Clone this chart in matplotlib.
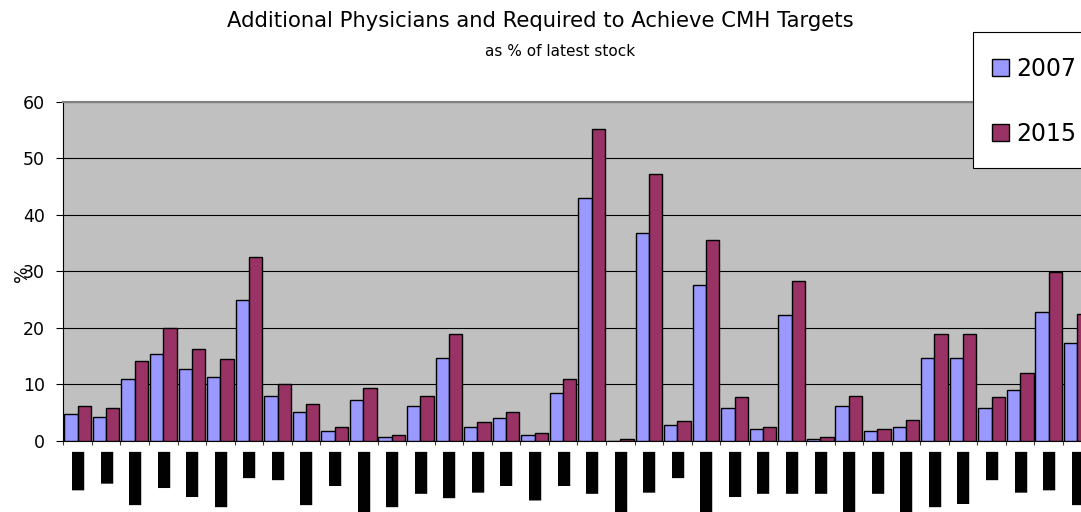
import matplotlib
matplotlib.use("Agg")
import matplotlib.pyplot as plt
from matplotlib.patches import Patch, Rectangle
import numpy as np

plt.rcParams["font.family"] = ["DejaVu Sans"]

# Values (% of latest stock) for each of the 36 categories
values_2007 = [4.7, 4.3, 10.9, 15.3, 12.7, 11.3, 25.0, 8.0, 5.1, 1.8, 7.2, 0.7,
               6.2, 14.6, 2.5, 4.0, 1.1, 8.4, 42.9, 0.0, 36.7, 2.8, 27.6, 5.8,
               2.1, 22.2, 0.3, 6.2, 1.8, 2.5, 14.6, 14.6, 5.8, 9.1, 22.9, 17.4]
values_2015 = [6.2, 5.8, 14.1, 19.9, 16.3, 14.5, 32.6, 10.1, 6.6, 2.5, 9.4, 1.1,
               8.0, 18.9, 3.3, 5.1, 1.5, 10.9, 55.2, 0.35, 47.2, 3.6, 35.5, 7.7,
               2.5, 28.3, 0.7, 8.0, 2.2, 3.7, 18.9, 18.9, 7.7, 12.0, 29.8, 22.5]

# Category labels are blacked out (solid block glyphs)
B = "█"
category_labels = [
    B * 4 + "▍", B * 3 + "▋", B * 6, B * 4 + "▏", B * 5 + "▏", B * 6 + "▎",
    B * 3, B * 3 + "▎", B * 6, B * 3 + "▉", B * 8, B * 6 + "▎",
    B * 4 + "▊", B * 5 + "▎", B * 4 + "▋", B * 3 + "▉", B * 5 + "▌", B * 3 + "▉",
    B * 4 + "▊", B * 8, B * 4 + "▋", B * 3, B * 8, B * 5 + "▏",
    B * 4 + "▊", B * 4 + "▊", B * 4 + "▊", B * 8, B * 4 + "▊", B * 8,
    B * 6 + "▎", B * 5 + "▉", B * 3 + "▎", B * 4 + "▋", B * 4 + "▍", B * 6,
]
series_names = ["2007", "2015"]
yticks = [0, 10, 20, 30, 40, 50, 60]

W, H = 1081, 512
fig = plt.figure(figsize=(W / 100, H / 100), dpi=100)
fig.patch.set_facecolor("white")

# Plot area (extends a little past the right edge of the figure)
left_px, right_px, top_px, bottom_px = 63.3, 1091.6, 101.7, 441.0
ax = fig.add_axes([left_px / W, 1 - bottom_px / H,
                   (right_px - left_px) / W, (bottom_px - top_px) / H])
ax.set_facecolor("#C0C0C0")

n = len(values_2007)
x = np.arange(n) + 0.5
bw = 0.466
c2007, c2015 = "#9999FF", "#993366"
ax.bar(x - bw / 2, values_2007, width=bw, color=c2007, edgecolor="black",
       linewidth=1.0, zorder=3)
ax.bar(x + bw / 2, values_2015, width=bw, color=c2015, edgecolor="black",
       linewidth=1.0, zorder=3)

ax.set_xlim(0, n)
ax.set_ylim(0, 60)

# Gridlines
ax.set_yticks(yticks)
ax.yaxis.grid(True, color="black", linewidth=0.8, zorder=1)
ax.set_axisbelow(True)
ax.tick_params(axis="y", direction="out", length=4.8, width=0.8, pad=8.4,
               labelsize=12.5, colors="black")

# Category boundary ticks (major) and labels at category centres (minor)
ax.set_xticks(np.arange(n + 1))
ax.set_xticklabels([])
ax.tick_params(axis="x", which="major", direction="out", length=3.0,
               width=0.8, color="#404040")
ax.set_xticks(x, minor=True)
ax.set_xticklabels(category_labels, minor=True, rotation=-90,
                   fontsize=8.5, fontfamily="DejaVu Sans")
ax.tick_params(axis="x", which="minor", length=0, pad=6.2)

for side in ("left", "bottom"):
    ax.spines[side].set_color("black")
    ax.spines[side].set_linewidth(0.8)
ax.spines["top"].set_color("#808080")
ax.spines["top"].set_linewidth(1.5)
ax.spines["right"].set_visible(False)

# Titles and axis label
fig.text(540 / W, 1 - 21 / H,
         "Additional Physicians and Required to Achieve CMH Targets",
         ha="center", va="center", fontsize=15.2)
fig.text(560 / W, 1 - 52 / H, "as % of latest stock",
         ha="center", va="center", fontsize=11)
fig.text(21.5 / W, 1 - 273.3 / H, "%", rotation=90, ha="center",
         va="center", fontsize=12.5)

# Legend box and entries
fig.patches.append(Rectangle((972.7 / W, 1 - 167.7 / H),
                             (1100 - 972.7) / W, (167.7 - 32.3) / H,
                             transform=fig.transFigure, facecolor="white",
                             edgecolor="black", linewidth=0.8, zorder=5))
handles = [Patch(facecolor=c2007, edgecolor="black", linewidth=1.0),
           Patch(facecolor=c2015, edgecolor="black", linewidth=1.0)]
leg = fig.legend(handles, series_names, loc="upper left",
                 bbox_to_anchor=(992.3 / W, 1 - 57 / H),
                 bbox_transform=fig.transFigure, frameon=False,
                 fontsize=17, handlelength=0.72, handleheight=0.72,
                 handletextpad=0.28, labelspacing=1.74,
                 borderpad=0, borderaxespad=0)
leg.set_zorder(6)

fig.savefig("out.png", dpi=100)
